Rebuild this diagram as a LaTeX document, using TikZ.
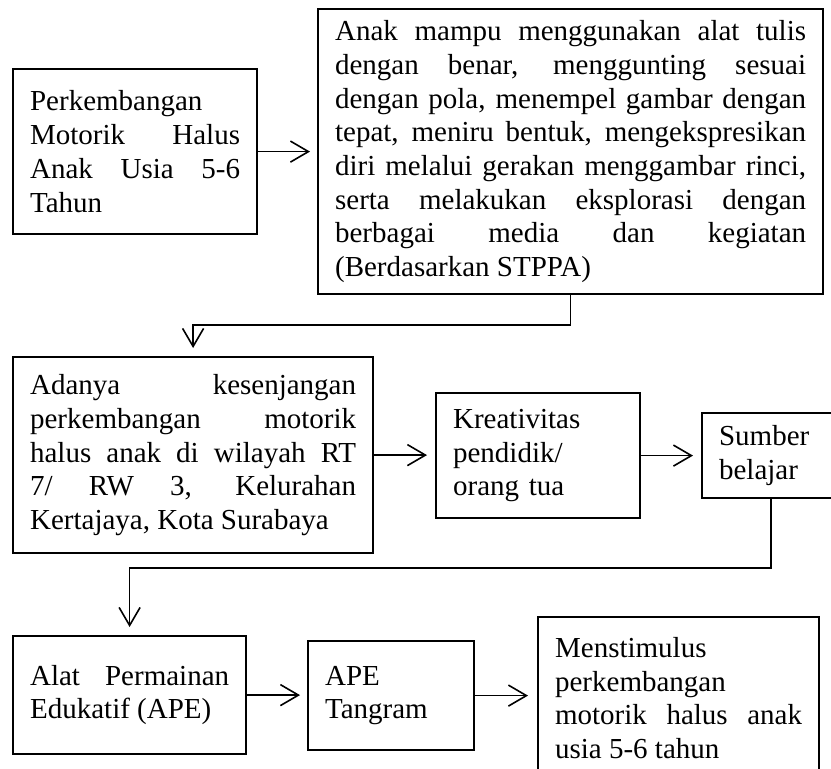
\documentclass[tikz,border=0pt]{standalone}
\usepackage{fontspec}
\setmainfont{Liberation Serif}
\usetikzlibrary{arrows.meta}
\setlength{\parindent}{0pt}
\hyphenpenalty=10000
\exhyphenpenalty=10000
\begin{document}
\begin{tikzpicture}[x=1pt,y=-1pt,
  box/.style={draw, line width=2.2pt, anchor=north west, inner xsep=17pt, inner ysep=0pt,
    font=\fontsize{29}{33.7}\selectfont},
  jbox/.style={box, align=justify},
  lbox/.style={box, align=left},
  arr/.style={line width=1.6pt, -{Straight Barb[length=18pt,width=21pt,line width=1.6pt]}}]
\useasboundingbox (0,0) rectangle (831,769);
\clip (0,0) rectangle (831,769);
\node[jbox, text width=210pt, minimum width=244pt, minimum height=165pt] (b1) at (12,68)
  {Perkembangan\\ Motorik Halus\linebreak Anak Usia 5-6\linebreak Tahun};
\node[jbox, text width=471pt, minimum width=505pt, minimum height=285pt] (b2) at (317,8)
  {Anak mampu menggunakan alat tulis\linebreak dengan benar, menggunting sesuai\linebreak dengan pola, menempel gambar dengan\linebreak tepat, meniru bentuk, mengekspresikan\linebreak diri melalui gerakan menggambar rinci,\linebreak serta melakukan eksplorasi dengan\linebreak berbagai media dan kegiatan\linebreak (Berdasarkan STPPA)};
\node[jbox, text width=326pt, minimum width=360pt, minimum height=196pt] (b3) at (12,356)
  {Adanya kesenjangan\linebreak perkembangan motorik\linebreak halus anak di wilayah RT\linebreak 7/ RW 3, Kelurahan\linebreak Kertajaya, Kota Surabaya};
\node[lbox, text width=170pt, minimum width=204pt, minimum height=125pt] (b4) at (435,392)
  {Kreativitas\\pendidik/\\orang tua};
\node[lbox, text width=104pt, minimum width=138pt, minimum height=85pt] (b5) at (701,412)
  {Sumber\\belajar};
\node[jbox, text width=199pt, minimum width=233pt, minimum height=118pt] (b6) at (12,635)
  {Alat Permainan\linebreak Edukatif (APE)};
\node[lbox, text width=132pt, minimum width=166pt, minimum height=109pt] (b7) at (307,640)
  {APE\\Tangram};
\node[jbox, text width=247pt, minimum width=281pt, minimum height=162pt] (b8) at (537,616)
  {Menstimulus\\ perkembangan\\ motorik halus anak\linebreak usia 5-6 tahun};
\draw[arr, shorten >=7pt] (b1.east) -- (b1.east -| b2.west);
\draw[arr, shorten >=8pt] (b2.south) -- ++(0,30) -| (b3.north);
\draw[arr, shorten >=8pt] (b3.east) -- (b3.east -| b4.west);
\draw[arr, shorten >=8pt] (b4.east) -- (b4.east -| b5.west);
\draw[arr, shorten >=8pt] (b5.south) -- ++(0,69) -| (b6.north);
\draw[arr, shorten >=7pt] (b6.east) -- (b6.east -| b7.west);
\draw[arr, shorten >=9pt] (b7.east) -- (b7.east -| b8.west);
\end{tikzpicture}
\end{document}
